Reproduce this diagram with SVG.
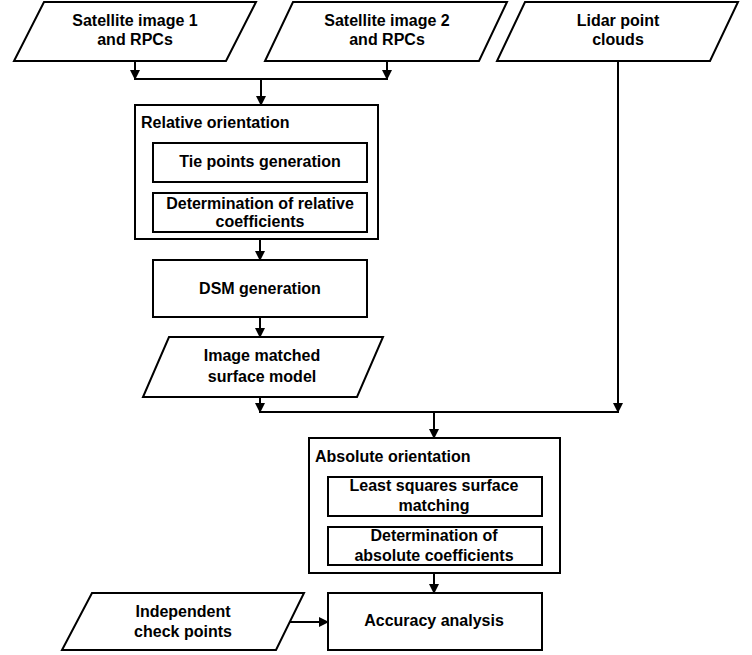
<svg xmlns="http://www.w3.org/2000/svg" width="752" height="655" viewBox="0 0 752 655">
<defs>
<style>
.s{fill:#fff;stroke:#000;stroke-width:2}
.t{font-family:"Liberation Sans",Arial,sans-serif;font-weight:bold;font-size:16px;fill:#000;text-anchor:middle}
.tl{font-family:"Liberation Sans",Arial,sans-serif;font-weight:bold;font-size:16px;fill:#000}
.c{fill:none;stroke:#000;stroke-width:2}
</style>
<marker id="ah" markerWidth="10" markerHeight="10" refX="9" refY="5" orient="auto" markerUnits="userSpaceOnUse">
<path d="M0,0 L10,5 L0,10 Z" fill="#000"/>
</marker>
</defs>
<rect width="752" height="655" fill="#fff"/>
<g id="connectors">
<path class="c" d="M135,61 V79" marker-end="url(#ah)"/>
<path class="c" d="M387,61 V79" marker-end="url(#ah)"/>
<path class="c" d="M134,79 H388"/>
<path class="c" d="M261,79 V105" marker-end="url(#ah)"/>
<path class="c" d="M260,239 V260" marker-end="url(#ah)"/>
<path class="c" d="M260,317 V337" marker-end="url(#ah)"/>
<path class="c" d="M260,397 V412" marker-end="url(#ah)"/>
<path class="c" d="M618,61 V412" marker-end="url(#ah)"/>
<path class="c" d="M259,412 H619"/>
<path class="c" d="M434,412 V438" marker-end="url(#ah)"/>
<path class="c" d="M434,573 V593" marker-end="url(#ah)"/>
<path class="c" d="M290,622 H328" marker-end="url(#ah)"/>
</g>
<g id="sat1">
<polygon class="s" points="44,2 256,2 226,61 14,61"/>
<text class="t" x="135" y="26">Satellite image 1</text>
<text class="t" x="135" y="45">and RPCs</text>
</g>
<g id="sat2">
<polygon class="s" points="293,2 507,2 479,61 265,61"/>
<text class="t" x="387" y="26">Satellite image 2</text>
<text class="t" x="387" y="45">and RPCs</text>
</g>
<g id="lidar">
<polygon class="s" points="525,2 738,2 710,61 497,61"/>
<text class="t" x="618" y="26">Lidar point</text>
<text class="t" x="618" y="45">clouds</text>
</g>
<g id="relative">
<rect class="s" x="135" y="105" width="243" height="134"/>
<text class="tl" x="141" y="128">Relative orientation</text>
</g>
<g id="tiepoints">
<rect class="s" x="153" y="143" width="214" height="39"/>
<text class="t" x="260" y="167">Tie points generation</text>
</g>
<g id="relcoef">
<rect class="s" x="153" y="193" width="214" height="39"/>
<text class="t" x="260" y="209">Determination of relative</text>
<text class="t" x="260" y="227">coefficients</text>
</g>
<g id="dsm">
<rect class="s" x="153" y="260" width="214" height="57"/>
<text class="t" x="260" y="294">DSM generation</text>
</g>
<g id="imsurf">
<polygon class="s" points="169,337 383,337 357,397 143,397"/>
<text class="t" x="262" y="361">Image matched</text>
<text class="t" x="262" y="382">surface model</text>
</g>
<g id="absolute">
<rect class="s" x="309" y="438" width="251" height="135"/>
<text class="tl" x="315" y="462">Absolute orientation</text>
</g>
<g id="lssm">
<rect class="s" x="328" y="477" width="214" height="39"/>
<text class="t" x="434" y="491">Least squares surface</text>
<text class="t" x="434" y="511">matching</text>
</g>
<g id="abscoef">
<rect class="s" x="328" y="527" width="214" height="38"/>
<text class="t" x="434" y="541">Determination of</text>
<text class="t" x="434" y="561">absolute coefficients</text>
</g>
<g id="accuracy">
<rect class="s" x="328" y="593" width="214" height="57"/>
<text class="t" x="434" y="626">Accuracy analysis</text>
</g>
<g id="checkpoints">
<polygon class="s" points="92,593 304,593 276,650 62,650"/>
<text class="t" x="183" y="617">Independent</text>
<text class="t" x="183" y="637">check points</text>
</g>
</svg>
